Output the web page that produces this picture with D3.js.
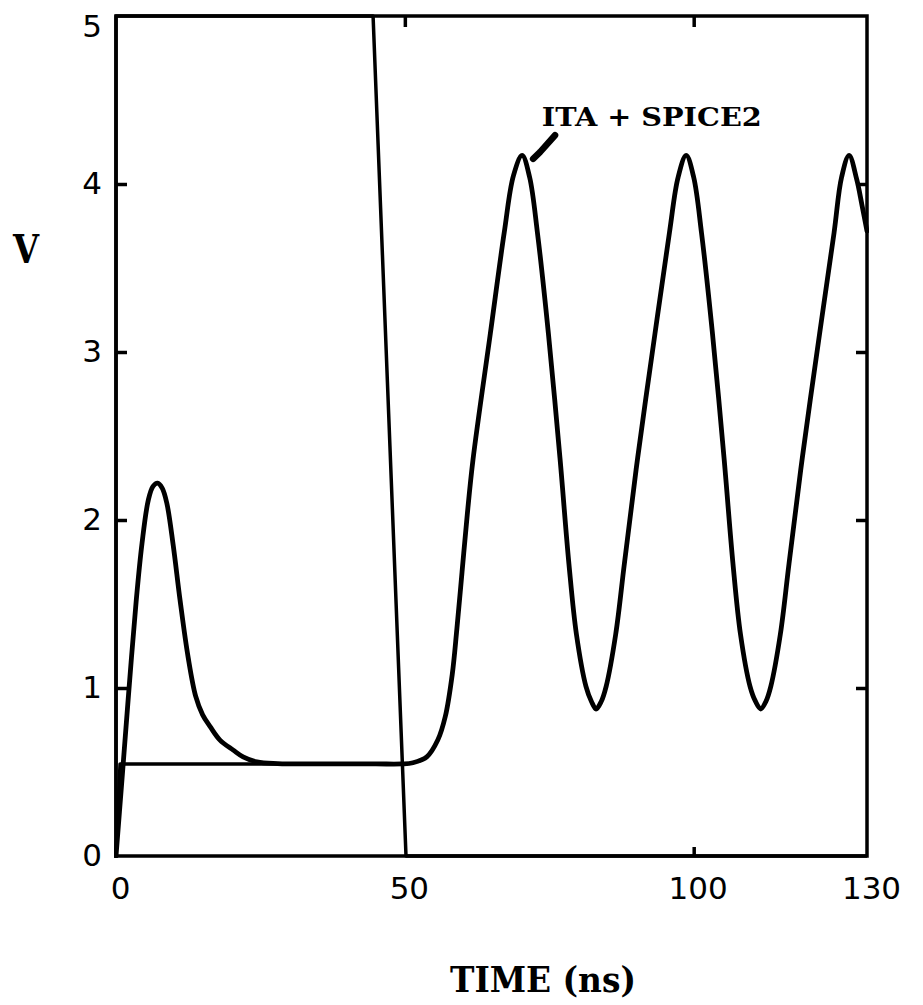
<!DOCTYPE html>
<html>
<head>
<meta charset="utf-8">
<script src="https://cdn.jsdelivr.net/npm/d3@7"></script>
<style>
  html, body { margin: 0; padding: 0; background: #fff; }
  svg { display: block; }
</style>
</head>
<body>
<svg id="chart" width="923" height="1005"></svg>
<script>
// ---------------- data ----------------
const xTickLabels = ["0", "50", "100", "130"];
const xTickValues = [0, 50, 100, 130];
const yTickValues = [0, 1, 2, 3, 4, 5];
const yTickLabels = ["0", "1", "2", "3", "4", "5"];

// input ramp (coincides with frame at left / top / bottom)
const inputTime = [0, 0, 44.5, 50.2, 130];
const inputVolt = [0, 5, 5, 0, 0];

// flat node voltage
const flatTime = [0, 0.7, 50.5];
const flatVolt = [0, 0.548, 0.548];

// ITA + SPICE2 output waveform
const outTime = [0, 1, 2.1, 3.5, 4.5, 5.6, 6.4, 7.2, 8.0, 8.8, 9.9, 11.1, 12.5, 13.8, 15.0, 16.3, 18, 20.3, 22, 24.4, 28, 35, 45, 49.5,
  51.4, 53.8, 55.7, 57.0, 58.2, 59.0, 59.9, 60.8, 61.8, 64.8, 67.2, 68.8, 70.3,
  71.6, 72.95, 74.85, 76.85, 78.4, 79.7, 81.35, 82.3, 83.1,
  84.0, 84.85, 86.5, 88.0, 90.3, 93.3, 95.8, 97.3, 98.7,
  100.0, 101.35, 103.25, 105.25, 106.8, 108.1, 109.75, 110.7, 111.6,
  112.5, 113.35, 115.0, 116.5, 118.8, 121.8, 124.3, 125.6, 126.9,
  128.2, 129.1, 130];
const outVolt = [0, 0.44, 0.93, 1.52, 1.86, 2.12, 2.2, 2.22, 2.19, 2.1, 1.85, 1.52, 1.18, 0.95, 0.84, 0.77, 0.69, 0.63, 0.59, 0.56, 0.55, 0.548, 0.548, 0.548,
  0.555, 0.59, 0.69, 0.83, 1.08, 1.35, 1.69, 2.03, 2.36, 3.11, 3.71, 4.05, 4.17,
  4.04, 3.71, 3.11, 2.37, 1.74, 1.32, 1.01, 0.92, 0.875,
  0.92, 1.01, 1.32, 1.74, 2.37, 3.11, 3.71, 4.04, 4.17,
  4.04, 3.71, 3.11, 2.37, 1.74, 1.32, 1.01, 0.92, 0.875,
  0.92, 1.01, 1.32, 1.74, 2.37, 3.11, 3.71, 4.04, 4.17,
  4.03, 3.88, 3.72];

// annotation
const annotationText = "ITA + SPICE2";
const annotationAt = [73.7, 4.17];            // text anchor (time, volt)
const arrowTime = [76.0, 73.4, 72.2];
const arrowVolt = [4.29, 4.19, 4.15];

const xAxisTitle = "TIME (ns)";
const yAxisTitle = "V";

// ---------------- drawing ----------------
const svg = d3.select("#chart");
const W = 923, H = 1005;
const margin = { left: 116, right: W - 867, top: 16, bottom: H - 856 };

const x = d3.scaleLinear().domain([0, 130]).range([margin.left, W - margin.right]);
const y = d3.scaleLinear().domain([0, 5]).range([H - margin.bottom, margin.top]);

svg.append("rect").attr("width", W).attr("height", H).attr("fill", "#fff");

const defs = svg.append("defs");
defs.append("clipPath").attr("id", "plotclip")
  .append("rect")
  .attr("x", x(0) - 2).attr("y", y(5) - 2)
  .attr("width", x(130) - x(0) + 4).attr("height", y(0) - y(5) + 4);

const plot = svg.append("g").attr("clip-path", "url(#plotclip)");

const lineLinear = d3.line().x(d => x(d[0])).y(d => y(d[1])).curve(d3.curveLinear);
const lineSmooth = d3.line().x(d => x(d[0])).y(d => y(d[1])).curve(d3.curveCatmullRom.alpha(0.5));

plot.append("path")
  .datum(inputTime.map((t, i) => [t, inputVolt[i]]))
  .attr("d", lineLinear).attr("fill", "none").attr("stroke", "#000")
  .attr("stroke-width", 3.5).attr("stroke-linejoin", "round");

plot.append("path")
  .datum(flatTime.map((t, i) => [t, flatVolt[i]]))
  .attr("d", lineLinear).attr("fill", "none").attr("stroke", "#000")
  .attr("stroke-width", 3.5).attr("stroke-linejoin", "round");

plot.append("path")
  .datum(outTime.map((t, i) => [t, outVolt[i]]))
  .attr("d", lineSmooth).attr("fill", "none").attr("stroke", "#000")
  .attr("stroke-width", 4.8).attr("stroke-linejoin", "round").attr("stroke-linecap", "round");

// frame
svg.append("rect")
  .attr("x", x(0)).attr("y", y(5))
  .attr("width", x(130) - x(0)).attr("height", y(0) - y(5))
  .attr("fill", "none").attr("stroke", "#000").attr("stroke-width", 3.5);

// axes (inward ticks)
const tickFont = "'DejaVu Sans', sans-serif";
const yLeft = d3.axisLeft(y).tickValues(yTickValues).tickSizeInner(-11).tickSizeOuter(0)
  .tickPadding(14).tickFormat((d, i) => yTickLabels[i]);
const gL = svg.append("g").attr("transform", `translate(${x(0)},0)`).call(yLeft);

const yRight = d3.axisRight(y).tickValues([1, 2, 3, 4]).tickSizeInner(-11).tickSizeOuter(0).tickFormat("");
const gR = svg.append("g").attr("transform", `translate(${x(130)},0)`).call(yRight);

const xBottom = d3.axisBottom(x).tickValues(xTickValues).tickSizeInner(-9).tickSizeOuter(0)
  .tickPadding(21).tickFormat((d, i) => xTickLabels[i]);
const gB = svg.append("g").attr("transform", `translate(0,${y(0)})`).call(xBottom);

const xTop = d3.axisTop(x).tickValues([50, 100]).tickSizeInner(-11).tickSizeOuter(0).tickFormat("");
const gT = svg.append("g").attr("transform", `translate(0,${y(5)})`).call(xTop);

[gL, gR, gB, gT].forEach(g => {
  g.select(".domain").remove();
  g.selectAll(".tick line").attr("stroke", "#000").attr("stroke-width", 3.5);
  g.selectAll(".tick text").attr("fill", "#000")
    .style("font-family", tickFont).style("font-size", "31px").style("font-weight", "normal");
});
// hide tick marks that sit on the frame corners / under curves
gL.selectAll(".tick").filter(d => d === 0 || d === 5).select("line").remove();
gL.selectAll(".tick").filter(d => d === 5).select("text").attr("dy", "0.65em");
gB.selectAll(".tick").filter(d => d !== 100).select("line").remove();
gB.selectAll(".tick text").attr("dx", 4);

// titles
const serifBold = "'DejaVu Serif', serif";
svg.append("text").text(yAxisTitle)
  .attr("x", 26).attr("y", 263).attr("text-anchor", "middle")
  .style("font-family", serifBold).style("font-weight", "bold").style("font-size", "40px")
  .attr("textLength", 26).attr("lengthAdjust", "spacingAndGlyphs");

svg.append("text").text(xAxisTitle)
  .attr("x", 450).attr("y", 992)
  .style("font-family", serifBold).style("font-weight", "bold").style("font-size", "36px")
  .attr("textLength", 186).attr("lengthAdjust", "spacingAndGlyphs");

// annotation
svg.append("text").text(annotationText)
  .attr("x", x(annotationAt[0])).attr("y", y(annotationAt[1]) + 126 - y(4.17))
  .style("font-family", serifBold).style("font-weight", "bold").style("font-size", "26px")
  .attr("textLength", 220).attr("lengthAdjust", "spacingAndGlyphs");

svg.append("path")
  .datum(arrowTime.map((t, i) => [t, arrowVolt[i]]))
  .attr("d", lineLinear).attr("fill", "none").attr("stroke", "#000")
  .attr("stroke-width", 6.5).attr("stroke-linecap", "round").attr("stroke-linejoin", "round");
</script>
</body>
</html>
